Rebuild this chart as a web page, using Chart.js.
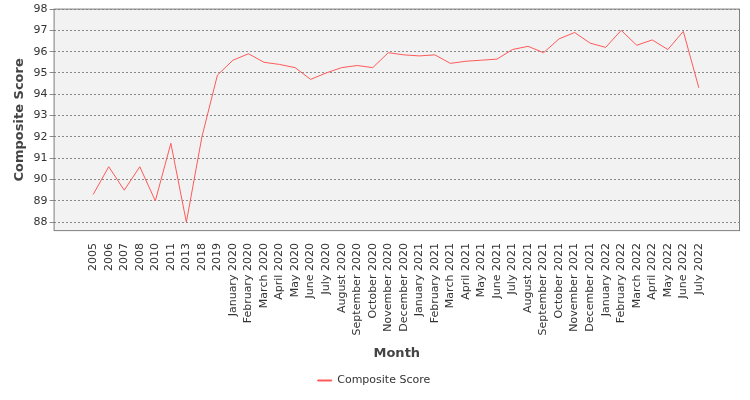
<!DOCTYPE html>
<html><head><script src="https://cdn.jsdelivr.net/npm/chart.js@4"></script>
<style>body{margin:0;background:#fff}</style></head>
<body><canvas id="c" width="750" height="400" style="width:750px;height:400px"></canvas>
<script>
const categories=["2005","2006","2007","2008","2010","2011","2013","2018","2019","January 2020","February 2020","March 2020","April 2020","May 2020","June 2020","July 2020","August 2020","September 2020","October 2020","November 2020","December 2020","January 2021","February 2021","March 2021","April 2021","May 2021","June 2021","July 2021","August 2021","September 2021","October 2021","November 2021","December 2021","January 2022","February 2022","March 2022","April 2022","May 2022","June 2022","July 2022"];
const scores=[89.3,90.6,89.5,90.6,89.0,91.7,88.0,92.0,94.9,95.6,95.9,95.5,95.4,95.25,94.7,95.0,95.25,95.35,95.25,95.95,95.85,95.8,95.85,95.45,95.55,95.6,95.65,96.1,96.25,95.95,96.6,96.9,96.4,96.2,97.0,96.3,96.55,96.1,96.95,94.3];
const yTicks=[88,89,90,91,92,93,94,95,96,97,98];
const bg={id:'bg',beforeDraw(ch){const a=ch.chartArea,x=ch.ctx;x.save();x.fillStyle='#f2f2f2';x.fillRect(a.left,a.top,a.width,a.height);x.restore();},
afterDraw(ch){const a=ch.chartArea,x=ch.ctx;x.save();x.strokeStyle='#808080';x.lineWidth=1;x.strokeRect(a.left+0.5,a.top+0.5,a.width-1,a.height-1);x.restore();}};
new Chart(document.getElementById('c'),{type:'line',
data:{datasets:[{label:'Composite Score',data:scores.map((v,i)=>({x:i,y:v})),borderColor:'#ff5a5a',backgroundColor:'#ff5a5a',borderWidth:1,pointRadius:0,tension:0}]},
options:{responsive:false,animation:false,maintainAspectRatio:false,devicePixelRatio:1,
layout:{padding:{left:8,right:10,top:8,bottom:4}},
scales:{
x:{type:'linear',min:-2.55,max:41.65,afterBuildTicks(s){s.ticks=categories.map((c,i)=>({value:i}));},
grid:{display:false},border:{display:false},
ticks:{autoSkip:false,minRotation:90,maxRotation:90,color:'#333',font:{family:'DejaVu Sans',size:11},padding:4,callback:(v)=>categories[v]},
title:{display:true,text:'Month',color:'#444',font:{family:'DejaVu Sans',size:13,weight:'bold'},padding:{top:6}}},
y:{min:87.58,max:98.02,afterBuildTicks(s){s.ticks=yTicks.map(v=>({value:v}));},
grid:{color:'#888',borderDash:[2,2],drawTicks:true,tickLength:4},border:{display:false,dash:[2,2]},
ticks:{color:'#333',font:{family:'DejaVu Sans',size:11},padding:2},
title:{display:true,text:'Composite Score',color:'#444',font:{family:'DejaVu Sans',size:13,weight:'bold'}}}},
plugins:{legend:{position:'bottom',labels:{boxWidth:14,boxHeight:1,color:'#333',font:{family:'DejaVu Sans',size:11}}},tooltip:{enabled:false}}},
plugins:[bg]});
</script></body></html>
